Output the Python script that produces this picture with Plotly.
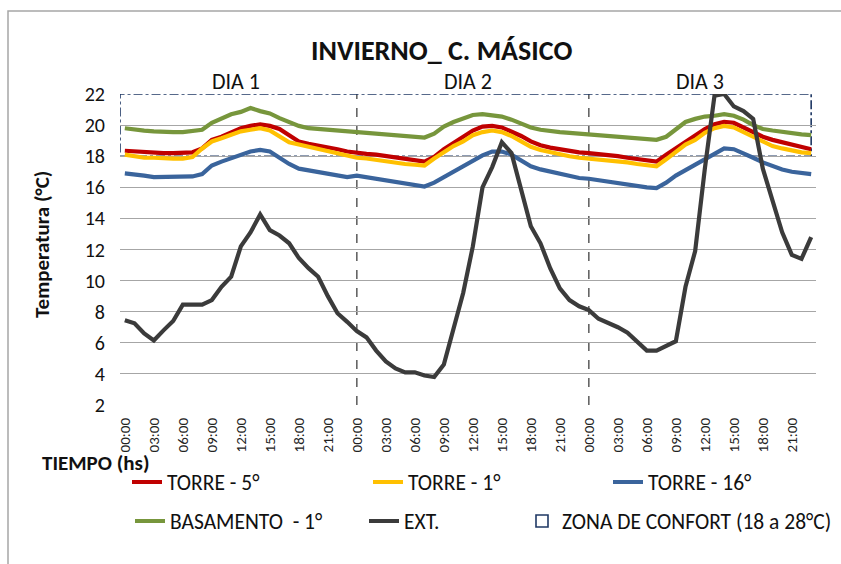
import plotly.graph_objects as go

# ---------------- data (hourly, 3 days) ----------------
tick_labels = ["00:00", "03:00", "06:00", "09:00", "12:00", "15:00", "18:00", "21:00"] * 3
day_labels = ["DIA 1", "DIA 2", "DIA 3"]

torre_5 = [
    18.35, 18.3, 18.25, 18.2, 18.2, 18.2, 18.2, 18.25, 18.5, 19.05, 19.25, 19.5,
    19.8, 19.95, 20.05, 19.95, 19.75, 19.35, 18.95, 18.8, 18.7, 18.6, 18.45, 18.3,
    18.2, 18.15, 18.1, 18.0, 17.9, 17.85, 17.75, 17.65, 17.95, 18.45, 18.85, 19.25,
    19.65, 19.9, 19.95, 19.85, 19.6, 19.3, 18.95, 18.7, 18.55, 18.45, 18.3, 18.25,
    18.2, 18.15, 18.1, 18.0, 17.9, 17.8, 17.7, 17.65, 18.1, 18.5, 18.95, 19.35,
    19.75, 20.05, 20.2, 20.15, 19.85, 19.5, 19.25, 19.05, 18.9, 18.7, 18.55, 18.45,
]
torre_1 = [
    18.1, 18.0, 17.9, 17.9, 17.85, 17.85, 17.85, 17.95, 18.5, 18.95, 19.15, 19.4,
    19.6, 19.7, 19.8, 19.65, 19.25, 18.9, 18.75, 18.6, 18.5, 18.35, 18.2, 18.0,
    17.9, 17.85, 17.75, 17.7, 17.6, 17.5, 17.45, 17.4, 17.85, 18.25, 18.65, 18.95,
    19.35, 19.55, 19.65, 19.55, 19.3, 18.95, 18.6, 18.4, 18.25, 18.15, 18.0, 17.9,
    17.85, 17.8, 17.75, 17.7, 17.6, 17.5, 17.4, 17.35, 17.8, 18.3, 18.75, 19.05,
    19.5, 19.8, 19.95, 19.85, 19.55, 19.2, 18.9, 18.65, 18.5, 18.35, 18.25, 18.2,
]
torre_16 = [
    16.9, 16.85, 16.75, 16.65, 16.65, 16.65, 16.65, 16.7, 16.85, 17.4, 17.65, 17.85,
    18.1, 18.3, 18.4, 18.3, 17.9, 17.5, 17.2, 17.1, 16.95, 16.85, 16.75, 16.65,
    16.75, 16.65, 16.55, 16.45, 16.35, 16.25, 16.15, 16.05, 16.3, 16.65, 17.0, 17.35,
    17.75, 18.05, 18.3, 18.3, 18.1, 17.7, 17.35, 17.15, 17.0, 16.85, 16.7, 16.6,
    16.55, 16.45, 16.4, 16.3, 16.2, 16.1, 16.0, 15.95, 16.3, 16.75, 17.1, 17.45,
    17.85, 18.2, 18.5, 18.45, 18.2, 17.9, 17.6, 17.35, 17.15, 17.0, 16.9, 16.85,
]
basamento_1 = [
    19.8, 19.7, 19.65, 19.6, 19.55, 19.55, 19.55, 19.6, 19.7, 20.15, 20.45, 20.7,
    20.85, 21.1, 20.9, 20.75, 20.45, 20.2, 19.95, 19.8, 19.75, 19.7, 19.65, 19.6,
    19.55, 19.5, 19.45, 19.4, 19.35, 19.3, 19.2, 19.2, 19.45, 19.9, 20.2, 20.45,
    20.65, 20.7, 20.65, 20.55, 20.35, 20.1, 19.85, 19.7, 19.6, 19.55, 19.5, 19.45,
    19.35, 19.3, 19.25, 19.2, 19.15, 19.1, 19.05, 19.05, 19.25, 19.7, 20.2, 20.4,
    20.55, 20.6, 20.7, 20.6, 20.35, 20.0, 19.75, 19.65, 19.55, 19.45, 19.4, 19.35,
]
ext = [
    7.45, 7.25, 6.6, 6.15, 6.8, 7.4, 8.45, 8.45, 8.45, 8.75, 9.6, 10.25,
    12.2, 13.1, 14.25, 13.25, 12.9, 12.4, 11.45, 10.8, 10.25, 9.0, 7.9, 7.35,
    6.75, 6.35, 5.5, 4.8, 4.35, 4.1, 4.1, 3.9, 3.8, 4.6, 6.9, 9.2,
    12.2, 16.0, 17.3, 18.9, 18.2, 15.8, 13.5, 12.4, 10.8, 9.5, 8.75, 8.35,
    8.1, 7.55, 7.3, 7.0, 6.65, 6.05, 5.5, 5.5, 5.8, 6.1, 9.6, 11.9,
    17.2, 21.9, 22.0, 21.2, 20.9, 20.4, 17.2, 15.2, 13.1, 11.65, 11.4, 12.8,
]
comfort_zone = [18, 28]   # °C
y_range = [2, 22]

series = [
    ("TORRE - 5°", torre_5, "#C00000"),
    ("TORRE - 1°", torre_1, "#FFC000"),
    ("TORRE - 16°", torre_16, "#3A649C"),
    ("BASAMENTO  - 1°", basamento_1, "#77963C"),
    ("EXT.", ext, "#3B3B3B"),
]

# ---------------- layout geometry ----------------
W, H = 841, 564
L, R, T, B = 120, 25, 94, 159
PW, PH = W - L - R, H - T - B

def px(x):
    return (x - L) / PW

def py(y):
    return (H - B - y) / PH

FONT = "Carlito, Lato, sans-serif"
n = len(ext)
hours = list(range(n))
hours_per_day = 24
tick_pos = list(range(0, n, 3))

fig = go.Figure()

legend_names = ["legend", "legend2", "legend3", "legend4", "legend5"]
for (name, vals, color), lg in zip(series, legend_names):
    fig.add_trace(go.Scatter(
        x=hours, y=vals, mode="lines", name=name,
        line=dict(color=color, width=4.2),
        legend=lg, hoverinfo="skip",
    ))

# comfort zone box (clipped at axis maximum)
fig.add_shape(
    type="rect", xref="x", yref="y",
    x0=-0.5, x1=n - 1, y0=comfort_zone[0], y1=min(comfort_zone[1], y_range[1]),
    line=dict(color="#1F3864", width=1.6, dash="dashdot"),
    fillcolor="rgba(0,0,0,0)", layer="below",
    showlegend=True, legend="legend6", name="ZONA DE CONFORT (18 a 28°C)",
)

# day separators
for d in range(1, n // hours_per_day):
    fig.add_shape(type="line", xref="x", yref="paper",
                  x0=d * hours_per_day, x1=d * hours_per_day, y0=0, y1=1,
                  line=dict(color="#5A5A5A", width=1.5, dash="dash"), layer="below")

# outer chart-area border
fig.add_shape(type="rect", xref="paper", yref="paper",
              x0=px(8), x1=px(848), y0=py(572), y1=py(11),
              line=dict(color="#A6A6A6", width=1.5), fillcolor="rgba(0,0,0,0)")

ann_common = dict(showarrow=False, xanchor="center", yanchor="middle")
# day labels
for d, lab in enumerate(day_labels):
    fig.add_annotation(x=d * hours_per_day + 11.5, y=py(82), xref="x", yref="paper",
                       text=lab, font=dict(family=FONT, size=22, color="#111111"),
                       **ann_common)

fig.add_annotation(x=px(441), y=py(50), xref="paper", yref="paper",
                   text="<b>INVIERNO_ C. MÁSICO</b>",
                   font=dict(family=FONT, size=28, color="#111111"), **ann_common)
fig.add_annotation(x=px(42), y=py(245), xref="paper", yref="paper",
                   text="<b>Temperatura (°C)</b>", textangle=-90,
                   font=dict(family=FONT, size=21, color="#111111"), **ann_common)
fig.add_annotation(x=px(95), y=py(463), xref="paper", yref="paper",
                   text="<b>TIEMPO (hs)</b>",
                   font=dict(family=FONT, size=21, color="#111111"), **ann_common)

leg_common = dict(orientation="h", xanchor="left", yanchor="middle",
                  bgcolor="rgba(0,0,0,0)", borderwidth=0,
                  font=dict(family=FONT, size=21.5, color="#111111"))
leg_pos = {
    "legend": (127, 482), "legend2": (368, 482), "legend3": (608, 482),
    "legend4": (130, 521), "legend5": (364, 521), "legend6": (522, 521),
}
legends = {k: dict(x=px(x), y=py(y), **leg_common) for k, (x, y) in leg_pos.items()}

fig.update_layout(
    width=W, height=H,
    margin=dict(l=L, r=R, t=T, b=B, autoexpand=False),
    paper_bgcolor="white", plot_bgcolor="white",
    showlegend=True,
    xaxis=dict(
        range=[-0.5, n - 0.5], tickmode="array", tickvals=tick_pos, ticktext=tick_labels,
        tickangle=-90, showgrid=False, zeroline=False, showline=False, ticks="",
        ticklabelstandoff=9,
        tickfont=dict(family=FONT, size=15, color="#222222"),
    ),
    yaxis=dict(
        range=y_range, dtick=2, showgrid=True, gridcolor="#A6A6A6", gridwidth=1.2,
        zeroline=False, showline=False, ticks="", ticklabelstandoff=14,
        tickfont=dict(family=FONT, size=20, color="#111111"),
    ),
    **legends,
)

fig.write_html("out.html", config={"displayModeBar": False},
               post_script="document.body.style.margin='0px';")
